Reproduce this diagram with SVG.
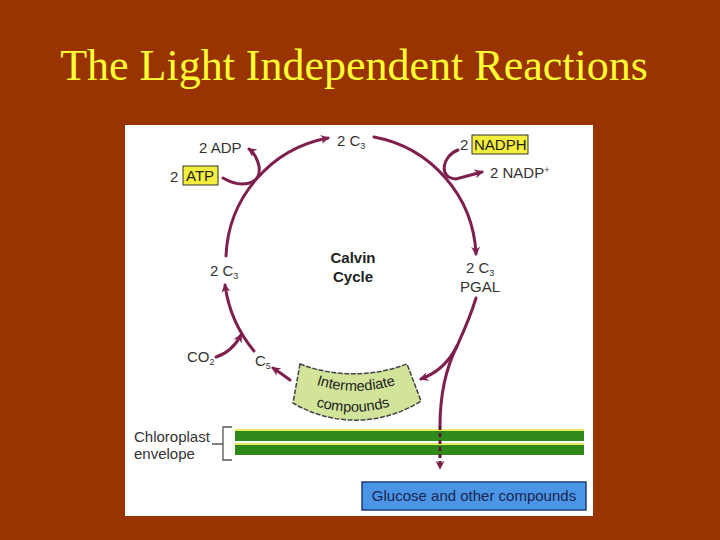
<svg xmlns="http://www.w3.org/2000/svg" width="720" height="540" viewBox="0 0 720 540">
<defs>
<style>
.lbl{font-family:"Liberation Sans",Arial,sans-serif;font-size:15px;fill:#333}
.sub{font-size:9px}
.arr{fill:none;stroke:#7e1f4e;stroke-width:3;stroke-linecap:round}
.hl{fill:#f4ee3c;stroke:#333;stroke-width:1}
.bar{fill:#2f8a1c}
.barhl{fill:#e8ec5a}
.brk{fill:none;stroke:#555;stroke-width:1.3}
</style>
<marker id="ah" viewBox="0 0 10 10" refX="8" refY="5" markerWidth="9" markerHeight="9" markerUnits="userSpaceOnUse" orient="auto">
<path d="M0,0 L10,5 L0,10 L3,5 Z" fill="#7e1f4e"/>
</marker>
<path id="tp1" d="M 304,380 A 130 130 0 0 0 408,380"/>
<path id="tp2" d="M 298,400 A 135 135 0 0 0 408,400"/>
</defs>
<rect width="720" height="540" fill="#993300"/>
<text x="354" y="80" text-anchor="middle" font-family="Liberation Serif,'Times New Roman',serif" font-size="44" fill="#ffff33">The Light Independent Reactions</text>
<rect x="125" y="125" width="468" height="391" fill="#ffffff"/>

<g id="adp"><text class="lbl" x="199" y="153">2 ADP</text></g>
<g id="atp"><text class="lbl" x="170" y="182">2</text><rect class="hl" x="183" y="166" width="35" height="19"/><text class="lbl" x="186" y="181" style="fill:#222">ATP</text></g>
<g id="c3top"><text class="lbl" x="337" y="146">2 C<tspan class="sub" dy="3">3</tspan></text></g>
<g id="nadph"><text class="lbl" x="460" y="150">2</text><rect class="hl" x="472" y="135" width="56" height="19"/><text class="lbl" x="474" y="150" style="fill:#222">NADPH</text></g>
<g id="nadp"><text class="lbl" x="490" y="178">2 NADP<tspan class="sub" dy="-5">+</tspan></text></g>
<g id="calvin"><text class="lbl" x="353" y="263" text-anchor="middle" style="font-weight:bold;fill:#222">Calvin</text><text class="lbl" x="353" y="282" text-anchor="middle" style="font-weight:bold;fill:#222">Cycle</text></g>
<g id="c3left"><text class="lbl" x="210" y="276">2 C<tspan class="sub" dy="3">3</tspan></text></g>
<g id="pgal"><text class="lbl" x="466" y="273">2 C<tspan class="sub" dy="3">3</tspan></text><text class="lbl" x="460" y="292">PGAL</text></g>
<g id="co2"><text class="lbl" x="187" y="362">CO<tspan class="sub" dy="3">2</tspan></text></g>
<g id="c5"><text class="lbl" x="255" y="366">C<tspan class="sub" dy="3">5</tspan></text></g>

<g id="intermediate">
<path d="M 300,364 A 150 150 0 0 0 407,364 L 421,401 A 122 122 0 0 1 293,403 Z" fill="#d2e49a" stroke="#444" stroke-width="1.5" stroke-dasharray="5,1.5"/>
<text class="lbl" style="font-size:14.5px;fill:#222"><textPath href="#tp1" startOffset="50%" text-anchor="middle">Intermediate</textPath></text>
<text class="lbl" style="font-size:14.5px;fill:#222"><textPath href="#tp2" startOffset="50%" text-anchor="middle">compounds</textPath></text>
</g>

<g id="envelope">
<rect class="barhl" x="235" y="429" width="349" height="12"/>
<rect class="bar" x="235" y="431" width="349" height="10"/>
<rect class="barhl" x="235" y="443" width="349" height="12"/>
<rect class="bar" x="235" y="445" width="349" height="10"/>
<path class="brk" d="M 232,427 L 223,427 L 223,460 L 232,460 M 212,444 L 223,444"/>
<text class="lbl" x="134" y="442">Chloroplast</text>
<text class="lbl" x="134" y="459">envelope</text>
</g>

<g id="glucose">
<rect x="362" y="482" width="224" height="28" fill="#4b95e6" stroke="#1e3c78" stroke-width="1.5"/>
<text class="lbl" x="474" y="501" text-anchor="middle" style="font-size:15px;fill:#1a2550">Glucose and other compounds</text>
</g>

<g id="connectors">
<path class="arr" d="M 226,256 A 125 125 0 0 1 328,138" marker-end="url(#ah)"/>
<path class="arr" d="M 374,137 A 125 125 0 0 1 476,254" marker-end="url(#ah)"/>
<path class="arr" d="M 476,298 C 470,318 462,335 457,346"/>
<path class="arr" d="M 457,346 C 450,360 440,372 421,379" marker-end="url(#ah)"/>
<path class="arr" d="M 457,346 C 446,368 440,395 440,426"/>
<path d="M 440,426 L 440,468" fill="none" stroke="#5a1838" stroke-width="3" stroke-dasharray="4,3" marker-end="url(#ah)"/>
<path class="arr" d="M 254,351 Q 230,322 225,285" marker-end="url(#ah)"/>
<path class="arr" d="M 290,380 Q 282,374 273,368" marker-end="url(#ah)"/>
<path class="arr" d="M 216,357 Q 232,352 241,335" marker-end="url(#ah)"/>
<path class="arr" d="M 223,178 C 240,188 262,186 259,166 Q 256,154 249,149" marker-end="url(#ah)"/>
<path class="arr" d="M 458,150 C 442,156 438,178 456,179 L 482,172" marker-end="url(#ah)"/>
</g>
</svg>
